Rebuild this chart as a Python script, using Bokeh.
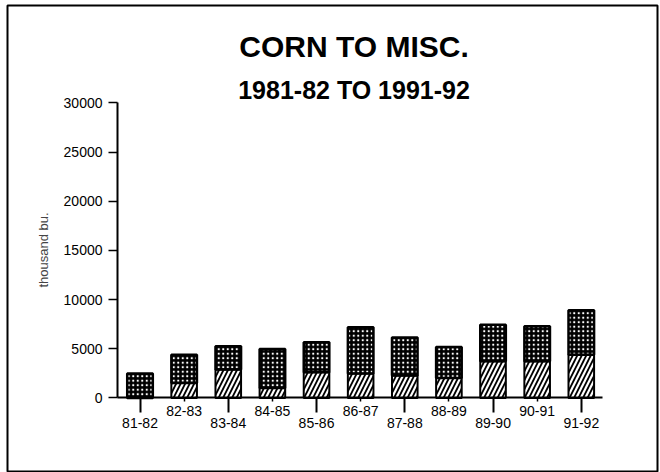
from bokeh.plotting import figure
from bokeh.models import Range1d, LinearAxis, FixedTicker
from bokeh.core.properties import value
from bokeh.embed import file_html
from bokeh.resources import INLINE

# ---- data (thousand bu.) ----
seasons = ["81-82", "82-83", "83-84", "84-85", "85-86", "86-87",
           "87-88", "88-89", "89-90", "90-91", "91-92"]
lower_part = [0, 1530, 2900, 1020, 2610, 2480, 2280, 2030, 3730, 3730, 4410]
totals = [2480, 4400, 5250, 4980, 5660, 7190, 6140, 5190, 7460, 7290, 8920]
upper_part = [t - l for t, l in zip(totals, lower_part)]
y_ticks = [0, 5000, 10000, 15000, 20000, 25000, 30000]
title_text = "CORN TO MISC."
subtitle_text = "1981-82 TO 1991-92"
y_label = "thousand bu."

positions = list(range(1, len(seasons) + 1))
FONT = value("Liberation Sans")
X_AXIS_POS = 0.49   # where the value axis crosses the category axis

p = figure(width=660, height=472,
           x_range=Range1d(-2.003, 12.727), y_range=Range1d(-7475, 39915),
           output_backend="svg", toolbar_location=None,
           x_axis_type=None, y_axis_type=None,
           min_border_left=7, min_border_right=3,
           min_border_top=5, min_border_bottom=1)
p.outline_line_color = "black"
p.outline_line_width = 2
p.xgrid.visible = False
p.ygrid.visible = False
p.background_fill_color = "white"
p.border_fill_color = "white"

# stacked bars
p.vbar(x=positions, bottom=0, top=lower_part, width=0.58,
       fill_color="white", line_color="black", line_width=2,
       hatch_pattern="/", hatch_color="black", hatch_scale=9, hatch_weight=1.8)
p.vbar(x=positions, bottom=lower_part, top=totals, width=0.58,
       fill_color="black", line_color="black", line_width=2.5,
       hatch_pattern=".", hatch_color="white", hatch_scale=4.5, hatch_weight=1.8)

# y axis
yaxis = LinearAxis(ticker=FixedTicker(ticks=y_ticks), bounds=(0, 30000),
                   axis_label=y_label, fixed_location=X_AXIS_POS)
yaxis.axis_line_width = 2
yaxis.major_tick_out = 9
yaxis.major_tick_in = 0
yaxis.major_tick_line_width = 1.5
yaxis.minor_tick_out = 0
yaxis.minor_tick_in = 0
yaxis.major_label_standoff = 6
yaxis.major_label_text_font = "Liberation Sans"
yaxis.major_label_text_font_size = "14px"
yaxis.major_label_text_color = "black"
yaxis.axis_label_text_font = "Liberation Sans"
yaxis.axis_label_text_font_size = "13px"
yaxis.axis_label_text_font_style = "normal"
yaxis.axis_label_standoff = 10
p.add_layout(yaxis, "left")

# staggered x axis labels
upper_ticks = positions[1::2]
lower_ticks = positions[0::2]
ax_up = LinearAxis(ticker=FixedTicker(ticks=upper_ticks),
                   major_label_overrides={t: seasons[t - 1] for t in upper_ticks},
                   fixed_location=0, bounds=(X_AXIS_POS, 11.48))
ax_up.axis_line_width = 2
ax_up.major_tick_out = 4
ax_up.major_tick_in = 0
ax_up.major_tick_line_width = 1.5
ax_up.major_label_standoff = 4
ax_lo = LinearAxis(ticker=FixedTicker(ticks=lower_ticks),
                   major_label_overrides={t: seasons[t - 1] for t in lower_ticks},
                   fixed_location=0)
ax_lo.axis_line_color = None
ax_lo.major_tick_out = 15
ax_lo.major_tick_in = 0
ax_lo.major_tick_line_width = 2
ax_lo.major_label_standoff = 5
for ax in (ax_up, ax_lo):
    ax.major_label_text_font = "Liberation Sans"
    ax.major_label_text_font_size = "14px"
    ax.major_label_text_color = "black"
    ax.minor_tick_out = 0
    ax.minor_tick_in = 0
p.add_layout(ax_up, "below")
p.add_layout(ax_lo, "below")

# titles
p.text(x=[5.85], y=[35700], text=[title_text], text_font=FONT,
       text_font_style="bold", text_font_size="30px", text_color="black",
       text_align="center", text_baseline="middle")
p.text(x=[5.85], y=[31300], text=[subtitle_text], text_font=FONT,
       text_font_style="bold", text_font_size="25px", text_color="black",
       text_align="center", text_baseline="middle")

open("out.html", "w").write(file_html(p, INLINE))
